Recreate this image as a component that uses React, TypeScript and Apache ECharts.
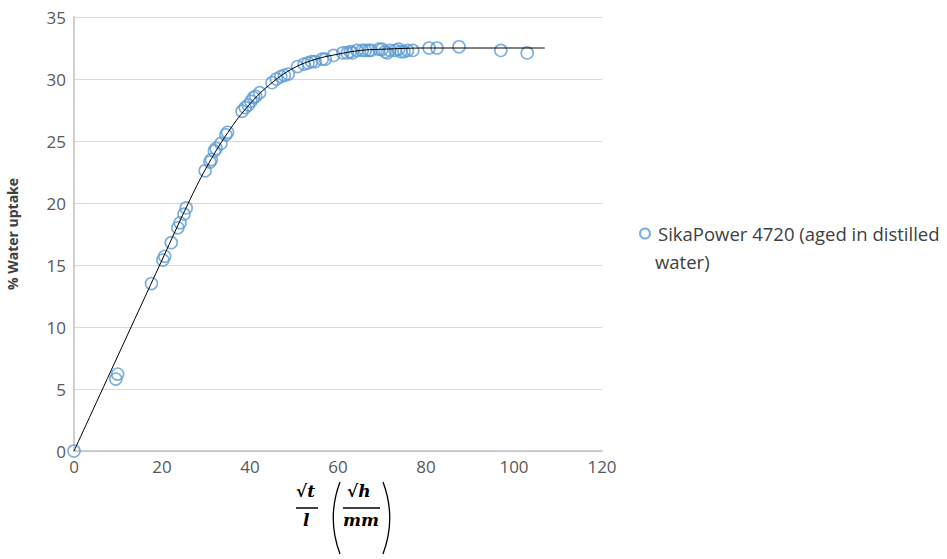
import React, { useEffect, useRef } from "react";
import * as echarts from "echarts";

const seriesName = "SikaPower 4720 (aged in distilled water)";
const legendLine1 = "SikaPower 4720 (aged in distilled";
const legendLine2 = "water)";

// measured points [sqrt(t)/l, % water uptake]
const xValues = [
  0, 9.5, 9.9, 17.6, 20.2, 20.6, 22.1, 23.6, 24.1, 25.0, 25.5,
  29.8, 30.9, 31.2, 31.9, 32.3, 33.4, 34.5, 34.9,
  38.2, 38.9, 39.6, 40.2, 40.8, 41.3, 42.2,
  45.0, 46.0, 47.0, 47.8, 48.7,
  50.8, 52.3, 53.2, 54.0, 54.8, 56.4, 57.1, 59.0,
  61.1, 62.1, 62.8, 63.3, 64.3, 65.5, 66.2, 67.0, 67.5,
  69.3, 70.0, 70.7, 71.2, 71.8, 73.0, 73.8, 74.3, 75.0, 75.8, 77.0,
  80.7, 82.5, 87.5, 97.0, 103.0,
];
const yValues = [
  0, 5.8, 6.2, 13.5, 15.4, 15.7, 16.8, 18.0, 18.4, 19.1, 19.6,
  22.6, 23.3, 23.5, 24.2, 24.4, 24.8, 25.5, 25.7,
  27.4, 27.7, 27.9, 28.2, 28.5, 28.6, 28.9,
  29.7, 30.0, 30.2, 30.3, 30.4,
  31.0, 31.2, 31.3, 31.4, 31.4, 31.6, 31.6, 31.9,
  32.1, 32.1, 32.2, 32.1, 32.3, 32.3, 32.3, 32.3, 32.3,
  32.4, 32.4, 32.2, 32.1, 32.3, 32.3, 32.4, 32.2, 32.2, 32.3, 32.3,
  32.5, 32.5, 32.6, 32.3, 32.1,
];

// fitted curve
const fitX = [0, 10, 20, 26, 30, 35, 40, 45, 50, 55, 60, 65, 70, 80, 90, 107];
const fitY = [0, 7.7, 15.4, 20.0, 22.8, 25.7, 28.0, 29.7, 30.9, 31.6, 32.0, 32.3, 32.4, 32.5, 32.5, 32.5];

const xTicks = { min: 0, max: 120, interval: 20 };
const yTicks = { min: 0, max: 35, interval: 5 };

export default function App() {
  const ref = useRef<HTMLDivElement>(null);
  useEffect(() => {
    if (!ref.current) return;
    const chart = echarts.init(ref.current, undefined, { renderer: "svg" });
    const labelColor = "#595959";
    const textFont = "Open Sans";
    const mathFont = "DejaVu Serif";
    chart.setOption({
      animation: false,
      backgroundColor: "#ffffff",
      grid: { left: 74, top: 17, width: 528, height: 434, outerBoundsMode: "none", containLabel: false },
      legend: {
        data: [{ name: seriesName, icon: "circle" }],
        left: 639,
        top: 224,
        padding: 0,
        itemWidth: 10,
        itemHeight: 10,
        formatter: () => legendLine1,
        textStyle: { fontFamily: textFont, fontSize: 18.5, color: "#404040", padding: [0, 0, 0, 3] },
      },
      xAxis: {
        type: "value",
        min: xTicks.min,
        max: xTicks.max,
        interval: xTicks.interval,
        axisLine: { show: true, lineStyle: { color: "#bfbfbf", width: 1.5 } },
        axisTick: { show: false },
        splitLine: { show: false },
        axisLabel: { color: labelColor, fontFamily: textFont, fontSize: 17, margin: 7 },
      },
      yAxis: {
        type: "value",
        min: yTicks.min,
        max: yTicks.max,
        interval: yTicks.interval,
        name: "% Water uptake",
        nameLocation: "middle",
        nameGap: 55,
        nameTextStyle: { fontFamily: textFont, fontWeight: "bold", fontSize: 14, color: "#404040" },
        axisLine: { show: true, lineStyle: { color: "#bfbfbf", width: 1.5 } },
        axisTick: { show: false },
        splitLine: { show: true, lineStyle: { color: "#d9d9d9", width: 1 } },
        axisLabel: { color: labelColor, fontFamily: textFont, fontSize: 17, margin: 8 },
      },
      series: [
        {
          name: "fit",
          type: "line",
          smooth: 0.4,
          symbol: "none",
          data: fitX.map((x, i) => [x, fitY[i]]),
          lineStyle: { color: "#000000", width: 1 },
          z: 3,
          silent: true,
        },
        {
          name: seriesName,
          type: "scatter",
          data: xValues.map((x, i) => [x, yValues[i]]),
          symbol: "circle",
          symbolSize: 12,
          itemStyle: { color: "rgba(0,0,0,0)", borderColor: "#5b9bd5", borderWidth: 1.6 },
          z: 2,
        },
      ],
      graphic: [
        {
          type: "text",
          left: 655,
          top: 252,
          style: { text: legendLine2, font: `18.5px "${textFont}"`, fill: "#404040" },
        },
        {
          type: "group",
          children: [
            { type: "text", left: 296, top: 482, style: { text: "√t", font: `italic bold 17px "${mathFont}"`, fill: "#000" } },
            { type: "line", shape: { x1: 296, y1: 508, x2: 318, y2: 508 }, style: { stroke: "#000", lineWidth: 1.5 } },
            { type: "text", left: 303, top: 511, style: { text: "l", font: `italic bold 17px "${mathFont}"`, fill: "#000" } },
            { type: "bezierCurve", shape: { x1: 340, y1: 482, cpx1: 331, cpy1: 506, cpx2: 331, cpy2: 530, x2: 340, y2: 554 }, style: { stroke: "#000", lineWidth: 1.3, fill: "none" } },
            { type: "text", left: 347, top: 482, style: { text: "√h", font: `italic bold 17px "${mathFont}"`, fill: "#000" } },
            { type: "line", shape: { x1: 343, y1: 508, x2: 380, y2: 508 }, style: { stroke: "#000", lineWidth: 1.5 } },
            { type: "text", left: 343, top: 511, style: { text: "mm", font: `italic bold 17px "${mathFont}"`, fill: "#000" } },
            { type: "bezierCurve", shape: { x1: 383, y1: 482, cpx1: 392, cpy1: 506, cpx2: 392, cpy2: 530, x2: 383, y2: 554 }, style: { stroke: "#000", lineWidth: 1.3, fill: "none" } },
          ],
        },
      ],
    });
    return () => chart.dispose();
  }, []);
  return (
    <div
      ref={ref}
      style={{ position: "fixed", left: 0, top: 0, width: 947, height: 559 }}
    />
  );
}
